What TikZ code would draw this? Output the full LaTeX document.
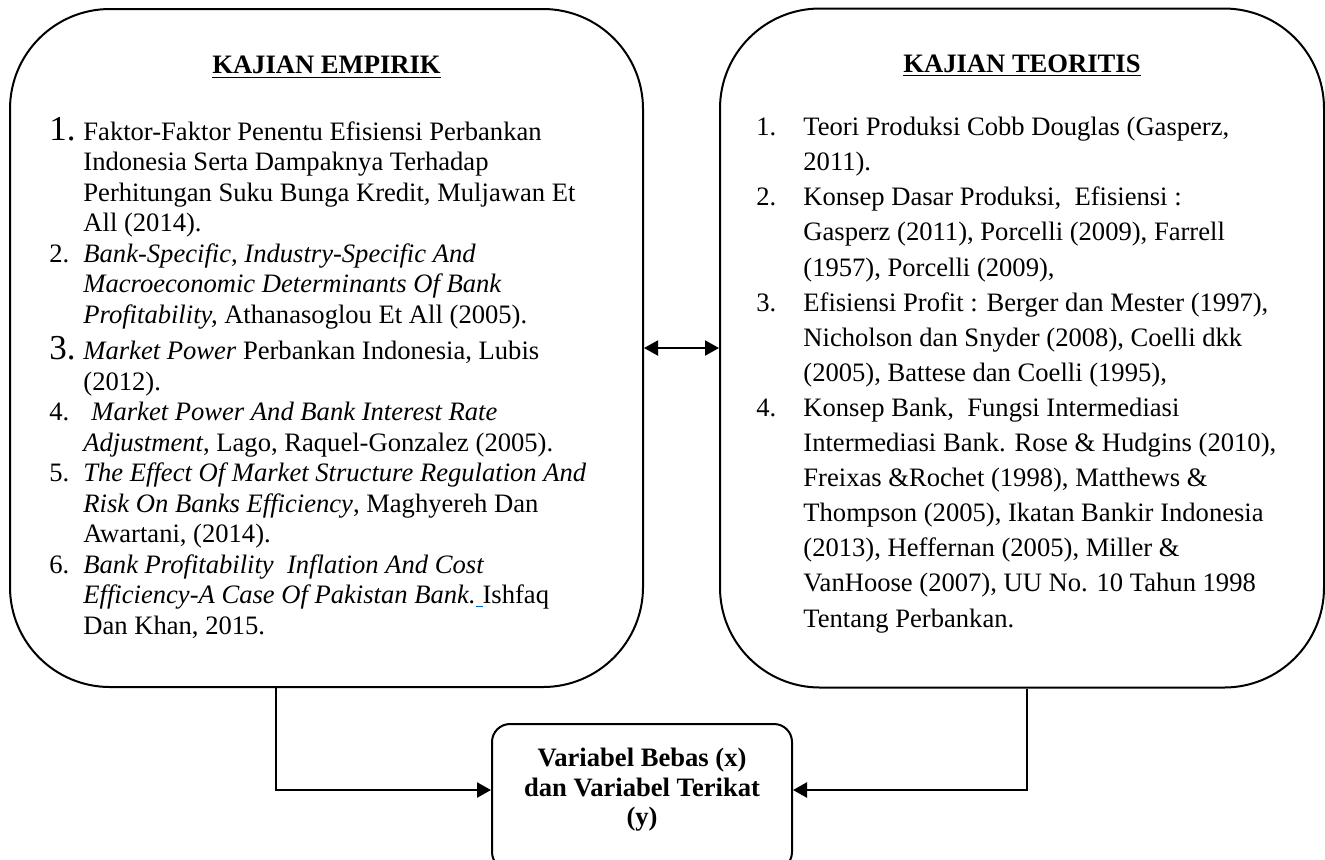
\documentclass[tikz,border=0pt]{standalone}
\usepackage{fontspec}
\setmainfont{Liberation Serif}
\usetikzlibrary{arrows.meta, positioning}

\definecolor{linkblue}{RGB}{5,99,193}
\newcommand{\empno}[1]{\makebox[17pt][l]{#1}}
\newcommand{\teono}[1]{\makebox[23.5pt][l]{#1}}
\newcommand{\bignum}{\fontsize{17.5}{15.25}\selectfont}

\begin{document}
\begin{tikzpicture}[x=0.5pt, y=-0.5pt,
    kajian box/.style={draw, line width=1pt, rounded corners=50pt},
    heading/.style={font=\fontsize{13.3}{16}\selectfont\bfseries, inner sep=0pt},
    ref list/.style={align=left, inner sep=0pt, anchor=base west},
    result box/.style={draw, line width=1pt, rounded corners=9pt,
                       minimum width=150pt, minimum height=73pt},
    result text/.style={font=\fontsize{13.3}{14.75}\selectfont\bfseries,
                        align=center, inner sep=0pt},
    link/.style={line width=1.2pt, -{Triangle[length=7pt, width=7.5pt]}}]

    \useasboundingbox (0,0) rectangle (1325,859);

    % the two big rounded boxes
    \node[kajian box, minimum width=316.5pt, minimum height=339pt] (empirik) at (326.5,348) {};
    \node[kajian box, minimum width=302pt, minimum height=339.5pt,
          right=37.5pt of empirik] (teoritis) {};

    % headings
    \node[heading, below=24pt of empirik.north] (empirik title) {\underline{KAJIAN EMPIRIK}};
    \node[heading, below=23.5pt of teoritis.north] (teoritis title) {\underline{KAJIAN TEORITIS}};

    % empirical studies (anchored on the baseline of the last line)
    \node[ref list, font=\fontsize{13.3}{15.25}\selectfont] (empirik list) at (49,634) {%
        \empno{\bignum 1.}Faktor-Faktor Penentu Efisiensi Perbankan\\
        \hspace*{17pt}Indonesia Serta Dampaknya Terhadap\\
        \hspace*{17pt}Perhitungan Suku Bunga Kredit\textit{,} Muljawan Et\\
        \hspace*{17pt}All (2014).\\
        \empno{2.}\textit{Bank-Specific, Industry-Specific And}\\
        \hspace*{17pt}\textit{Macroeconomic Determinants Of Bank}\\
        \hspace*{17pt}\textit{Profitability,} Athanasoglou Et All (2005).\\[3pt]
        \empno{\bignum 3.}\textit{Market Power} Perbankan Indonesia, Lubis\\
        \hspace*{17pt}(2012).\\
        \empno{4.}\hspace{4pt}\textit{Market Power And Bank Interest Rate}\\
        \hspace*{17pt}\textit{Adjustment}, Lago, Raquel-Gonzalez (2005).\\
        \empno{5.}\textit{The Effect Of Market Structure Regulation And}\\
        \hspace*{17pt}\textit{Risk On Banks Efficiency}, Maghyereh Dan\\
        \hspace*{17pt}Awartani, (2014).\\
        \empno{6.}\textit{Bank Profitability\ \ Inflation And Cost}\\
        \hspace*{17pt}\textit{Efficiency-A Case Of Pakistan Bank.}\textcolor{linkblue}{\underline{\hspace{3.5pt}}}Ishfaq\\
        \hspace*{17pt}Dan Khan, 2015.};

    % theoretical studies
    \node[ref list, font=\fontsize{13.3}{17.55}\selectfont] (teoritis list) at (756,627) {%
        \teono{1.}Teori Produksi Cobb Douglas (Gasperz,\\
        \hspace*{23.5pt}2011).\\
        \teono{2.}Konsep Dasar Produksi,\ \ Efisiensi :\\
        \hspace*{23.5pt}Gasperz (2011), Porcelli (2009), Farrell\\
        \hspace*{23.5pt}(1957), Porcelli (2009),\\
        \teono{3.}Efisiensi Profit : Berger dan Mester (1997),\\
        \hspace*{23.5pt}Nicholson dan Snyder (2008), Coelli dkk\\
        \hspace*{23.5pt}(2005), Battese dan Coelli (1995),\\
        \teono{4.}Konsep Bank,\ \ Fungsi Intermediasi\\
        \hspace*{23.5pt}Intermediasi Bank. Rose \& Hudgins (2010),\\
        \hspace*{23.5pt}Freixas \&Rochet (1998), Matthews \&\\
        \hspace*{23.5pt}Thompson (2005), Ikatan Bankir Indonesia\\
        \hspace*{23.5pt}(2013), Heffernan (2005), Miller \&\\
        \hspace*{23.5pt}VanHoose (2007), UU No. 10 Tahun 1998\\
        \hspace*{23.5pt}Tentang Perbankan.};

    % result box at the bottom
    \node[result box] (result) at (642,797) {};
    \node[result text] (result text) at (642,790) {Variabel Bebas (x)\\dan Variabel Terikat\\(y)};

    % connectors
    \coordinate (empirik turn) at (276,790);
    \coordinate (teoritis turn) at (1027,790);
    \draw[line width=1pt, {Triangle[length=7pt, width=7.5pt]}-{Triangle[length=7pt, width=7.5pt]}]
        (empirik.east) -- (teoritis.west);
    \draw[link] (empirik.south -| empirik turn) -- (empirik turn) -- (empirik turn -| result.west);
    \draw[link] (teoritis.south -| teoritis turn) -- (teoritis turn) -- (teoritis turn -| result.east);
\end{tikzpicture}
\end{document}
